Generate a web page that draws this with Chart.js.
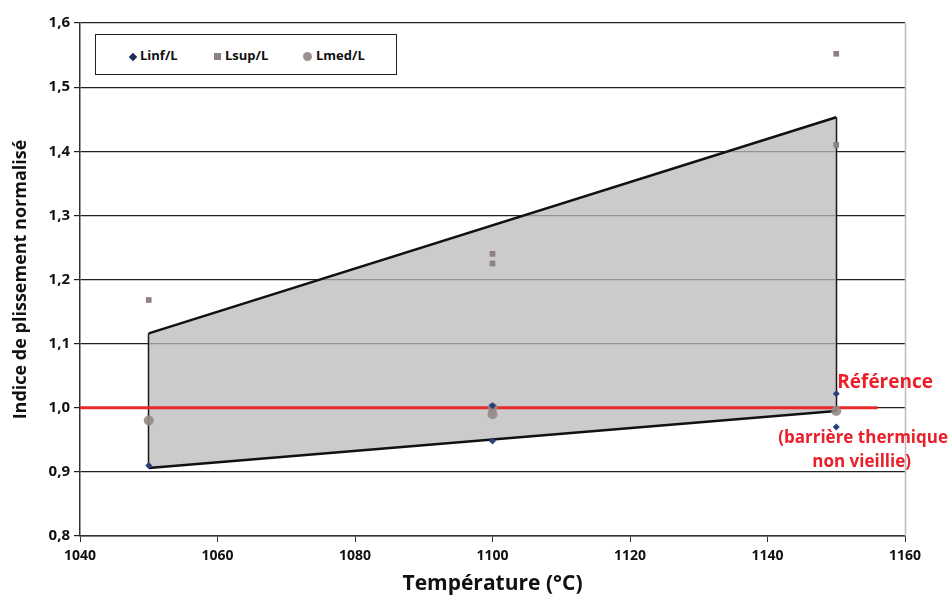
<!DOCTYPE html>
<html><head><meta charset="utf-8">
<script src="https://cdn.jsdelivr.net/npm/chart.js@4/dist/chart.umd.min.js"></script>
<style>
html,body{margin:0;padding:0;background:#fff;}
#wrap{position:relative;width:951px;height:597px;}
#legend{position:absolute;left:95px;top:34px;width:302px;height:41px;border:1.5px solid #222;background:#fff;box-sizing:border-box;font-family:"Open Sans",sans-serif;font-weight:bold;font-size:13px;color:#111;}
.li{position:absolute;top:11px;}
.mk{display:inline-block;vertical-align:middle;margin-right:4px;}
</style></head><body>
<div id="wrap"><canvas id="c" width="951" height="597"></canvas>
<div id="legend">
 <span class="li" style="left:34px"><span class="mk" style="width:6px;height:6px;background:#1f2a55;transform:rotate(45deg);"></span>Linf/L</span>
 <span class="li" style="left:118px"><span class="mk" style="width:7px;height:7px;background:#8e8088;"></span>Lsup/L</span>
 <span class="li" style="left:207px"><span class="mk" style="width:9px;height:9px;border-radius:50%;background:#9a9090;"></span>Lmed/L</span>
</div></div>
<script>
const xTicks = [1040,1060,1080,1100,1120,1140,1160];
const yTicks = [0.8,0.9,1.0,1.1,1.2,1.3,1.4,1.5,1.6];
const linfX = [1050,1100,1100,1150,1150];
const linfY = [0.91,0.948,1.003,1.022,0.97];
const lsupX = [1050,1100,1100,1150,1150];
const lsupY = [1.168,1.225,1.24,1.552,1.41];
const lmedX = [1050,1100,1100,1150];
const lmedY = [0.98,1.0,0.99,0.995];
const envX = [1050,1150];
const envUpper = [1.116,1.453];
const envLower = [0.906,0.995];
const refX = [1040,1156];
const refY = [1.0,1.0];

const pts = (xs,ys)=>xs.map((x,i)=>({x:x,y:ys[i]}));

const textPlugin = {
  id:'txt',
  beforeDatasetsDraw(chart){
    const a=chart.chartArea, ctx=chart.ctx;
    ctx.save();
    ctx.strokeStyle='#bbb';ctx.lineWidth=1.5;
    ctx.beginPath();ctx.moveTo(a.right+0.5,a.top);ctx.lineTo(a.right+0.5,a.bottom);ctx.stroke();
    ctx.restore();
  },
  afterDraw(chart){
    const ctx=chart.ctx, xs=chart.scales.x, ys=chart.scales.y;
    ctx.save();
    ctx.fillStyle='#e8202a';
    ctx.font='bold 19px "Open Sans", sans-serif';
    ctx.textAlign='left';ctx.textBaseline='middle';
    ctx.fillText('Référence', xs.getPixelForValue(1150)+1, ys.getPixelForValue(1.04));
    ctx.font='bold 17px "Open Sans", sans-serif';
    ctx.textAlign='right';
    ctx.fillText('(barrière thermique', 948, ys.getPixelForValue(0.953));
    ctx.fillText('non vieillie)', 911, ys.getPixelForValue(0.915));
    ctx.restore();
  }
};

const font = s=>({family:'"Open Sans", sans-serif',weight:'bold',size:s});

new Chart(document.getElementById('c'),{
  type:'scatter',
  data:{datasets:[
    {label:'upper',type:'line',data:pts(envX,envUpper),borderColor:'#111',borderWidth:2.5,pointRadius:0,fill:false,order:5},
    {label:'lower',type:'line',data:pts(envX,envLower),borderColor:'#111',borderWidth:2.5,pointRadius:0,fill:'-1',backgroundColor:'rgba(185,185,185,0.75)',order:5},
    {label:'left',type:'line',data:pts([envX[0],envX[0]],[envLower[0],envUpper[0]]),borderColor:'#111',borderWidth:2,pointRadius:0,fill:false,order:5},
    {label:'right',type:'line',data:pts([envX[1],envX[1]],[envLower[1],envUpper[1]]),borderColor:'#111',borderWidth:2,pointRadius:0,fill:false,order:5},
    {label:'ref',type:'line',data:pts(refX,refY),borderColor:'#ea2a2a',borderWidth:3,pointRadius:0,fill:false,order:4},
    {label:'Linf/L',data:pts(linfX,linfY),pointStyle:'rectRot',pointRadius:3.5,backgroundColor:'#26407a',borderWidth:0,order:1},
    {label:'Lsup/L',data:pts(lsupX,lsupY),pointStyle:'rect',pointRadius:4,backgroundColor:'#8e8088',borderWidth:0,order:2},
    {label:'Lmed/L',data:pts(lmedX,lmedY),pointStyle:'circle',pointRadius:5,backgroundColor:'rgba(150,138,135,0.9)',borderWidth:0,order:3}
  ]},
  options:{
    responsive:false,animation:false,
    layout:{padding:{top:23,right:46,left:6,bottom:0}},
    plugins:{legend:{display:false},tooltip:{enabled:false}},
    scales:{
      x:{type:'linear',min:1040,max:1160,
        afterBuildTicks(s){s.ticks=xTicks.map(v=>({value:v}));},
        grid:{display:true,drawOnChartArea:false,color:'#333',tickLength:6},
        border:{color:'#333',width:1.5},
        ticks:{font:font(14),color:'#111',padding:6,maxRotation:0,callback:v=>String(v)},
        title:{display:true,text:'Température (°C)',font:font(21),color:'#111',padding:{top:-2,bottom:0}},
        afterFit(s){s.height=61;}
      },
      y:{min:0.8,max:1.6,
        afterBuildTicks(s){s.ticks=yTicks.map(v=>({value:v}));},
        grid:{color:'#222',lineWidth:1.2,tickLength:6},
        border:{color:'#333',width:1.5},
        ticks:{font:font(15),color:'#111',padding:4,callback:v=>v.toFixed(1).replace('.',',')},
        title:{display:true,text:'Indice de plissement normalisé',font:font(18),color:'#111',padding:{bottom:2}},
        afterFit(s){s.width=74;}
      }
    }
  },
  plugins:[textPlugin]
});
</script></body></html>
